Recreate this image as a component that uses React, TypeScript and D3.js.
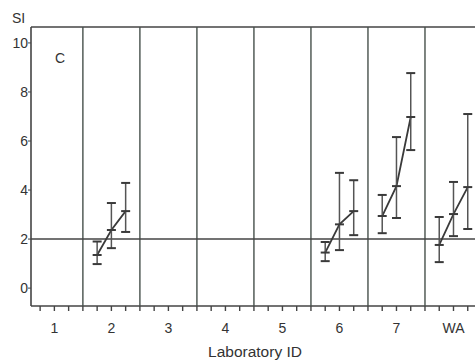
import React, { useEffect, useRef } from 'react'
import { select, scaleLinear, line, range } from 'd3'

// lab ids along x
const labs = ['1', '2', '3', '4', '5', '6', '7', 'WA']
const yTicks = [0, 2, 4, 6, 8, 10]
const refLevel = 2

// three timepoints per lab (only labs with data): mean, lower, upper
const labIndex = [1, 5, 6, 7]
const means = [
  [1.35, 2.37, 3.14],
  [1.45, 2.6, 3.14],
  [2.94, 4.16, 6.98],
  [1.76, 3.02, 4.12],
]
const lows = [
  [0.98, 1.63, 2.29],
  [1.1, 1.55, 2.16],
  [2.24, 2.86, 5.63],
  [1.06, 2.12, 2.41],
]
const highs = [
  [1.9, 3.47, 4.29],
  [1.88, 4.7, 4.4],
  [3.8, 6.16, 8.77],
  [2.9, 4.33, 7.1],
]
const offsets = [0.25, 0.5, 0.75]

function App() {
  const ref = useRef<SVGSVGElement>(null)

  useEffect(() => {
    const width = 475, height = 360
    const svg = select(ref.current)
    svg.selectAll('*').remove()
    svg.attr('width', width).attr('height', height)

    const x = scaleLinear().domain([0.09, 8]).range([31, 482])
    const y = scaleLinear().domain([-0.73, 10.65]).range([306, 27])
    const col = '#444'
    const font = 'Arial, "Liberation Sans", sans-serif'

    svg.append('rect').attr('width', width).attr('height', height).attr('fill', 'white')

    // frame
    svg.append('line').attr('x1', x(0.09)).attr('x2', width).attr('y1', y(10.65)).attr('y2', y(10.65))
      .style('stroke', col).style('stroke-width', 1.6)
    svg.append('line').attr('x1', x(0.09)).attr('x2', width).attr('y1', y(-0.73)).attr('y2', y(-0.73))
      .style('stroke', col).style('stroke-width', 1.6)
    svg.append('line').attr('x1', x(0.09)).attr('x2', x(0.09)).attr('y1', y(10.65)).attr('y2', y(-0.73))
      .style('stroke', col).style('stroke-width', 1.6)

    // panel dividers
    svg.selectAll('.div')
      .data(range(1, 8))
      .enter()
      .append('line')
      .attr('x1', d => x(d)).attr('x2', d => x(d))
      .attr('y1', y(10.65)).attr('y2', y(-0.73))
      .style('stroke', '#46504b').style('stroke-width', 1.4)

    // reference line
    svg.append('line').attr('x1', x(0.09)).attr('x2', width).attr('y1', y(refLevel)).attr('y2', y(refLevel))
      .style('stroke', col).style('stroke-width', 1.4)

    // x ticks
    svg.selectAll('.xt')
      .data(range(1, 32).map(k => k / 4))
      .enter()
      .append('line')
      .attr('x1', d => x(d)).attr('x2', d => x(d))
      .attr('y1', y(-0.73)).attr('y2', y(-0.73) + 5)
      .style('stroke', col).style('stroke-width', 1.4)

    svg.selectAll('.xl')
      .data(labs)
      .enter()
      .append('text')
      .attr('x', (d, i) => x(i + 0.5))
      .attr('y', 333)
      .attr('text-anchor', 'middle')
      .style('font-family', font).style('font-size', '14px').style('fill', '#333')
      .text(d => d)

    // y ticks
    svg.selectAll('.yt')
      .data(yTicks)
      .enter()
      .append('line')
      .attr('x1', x(0.09) - 3).attr('x2', x(0.09))
      .attr('y1', d => y(d)).attr('y2', d => y(d))
      .style('stroke', col).style('stroke-width', 1)

    svg.selectAll('.yl')
      .data(yTicks)
      .enter()
      .append('text')
      .attr('x', 28)
      .attr('y', d => y(d) + 5)
      .attr('text-anchor', 'end')
      .style('font-family', font).style('font-size', '14px').style('fill', '#333')
      .text(d => d)

    svg.append('text').attr('x', 12).attr('y', 23)
      .style('font-family', font).style('font-size', '14px').style('fill', '#333').text('SI')
    svg.append('text').attr('x', 60).attr('y', 63).attr('text-anchor', 'middle')
      .style('font-family', font).style('font-size', '14px').style('fill', '#333').text('C')
    svg.append('text').attr('x', 255).attr('y', 357).attr('text-anchor', 'middle')
      .style('font-family', font).style('font-size', '15.5px').style('fill', '#333').text('Laboratory ID')

    // series
    const cap = 4.5
    labIndex.forEach((li, s) => {
      const pts = offsets.map((o, j) => ({ px: li + o, m: means[s][j], lo: lows[s][j], hi: highs[s][j] }))
      const g = svg.append('g')

      g.append('path')
        .attr('d', line<any>().x(d => x(d.px)).y(d => y(d.m))(pts))
        .style('fill', 'none').style('stroke', '#3a3a3a').style('stroke-width', 1.8)

      pts.forEach(p => {
        g.append('line').attr('x1', x(p.px)).attr('x2', x(p.px)).attr('y1', y(p.lo)).attr('y2', y(p.hi))
          .style('stroke', '#555').style('stroke-width', 1.5)
        ;[p.lo, p.hi, p.m].forEach(v => {
          g.append('line').attr('x1', x(p.px) - cap).attr('x2', x(p.px) + cap)
            .attr('y1', y(v)).attr('y2', y(v))
            .style('stroke', '#3a3a3a').style('stroke-width', 2)
        })
      })
    })
  }, [])

  return <svg ref={ref} style={{ position: 'absolute', left: 0, top: 0 }}></svg>
}

export default App
